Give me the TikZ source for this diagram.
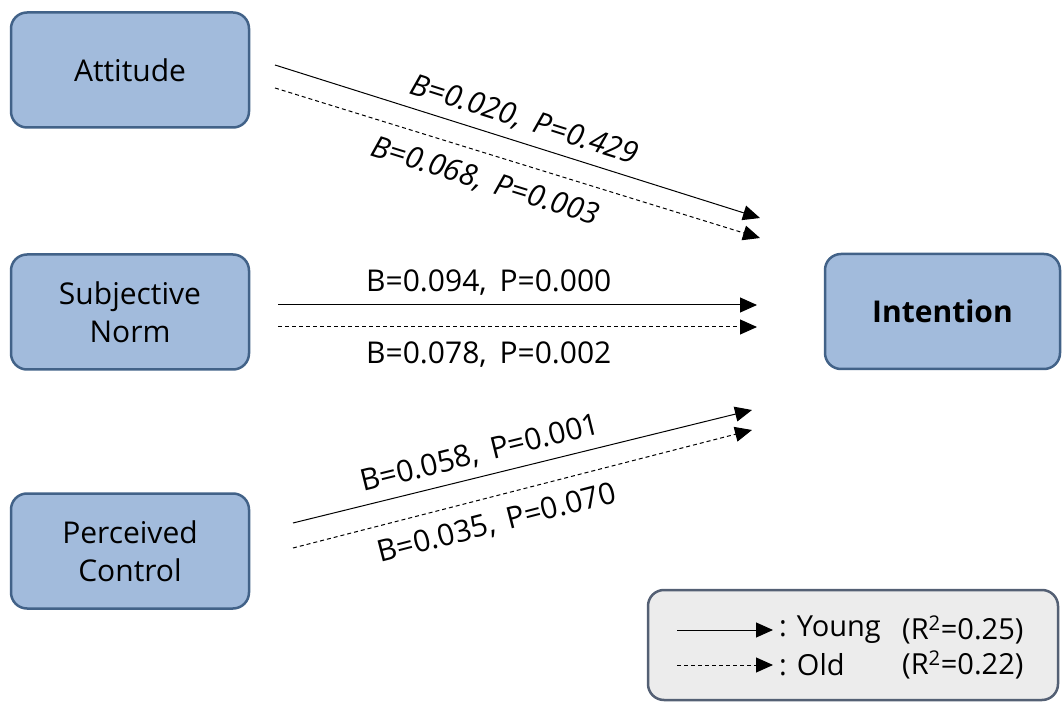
\documentclass[tikz,border=0pt]{standalone}
\usepackage{fontspec}
\setmainfont{Open Sans}
\usetikzlibrary{arrows.meta}

\definecolor{boxfill}{RGB}{162,187,220}
\definecolor{boxline}{RGB}{66,98,136}
\definecolor{keyfill}{RGB}{236,236,236}
\definecolor{keyline}{RGB}{84,96,116}

\tikzset{
  var/.style={draw=boxline, fill=boxfill, line width=2.5pt, rounded corners=16pt,
    minimum width=238pt, minimum height=115pt, align=center,
    font=\fontsize{30}{38}\selectfont},
  young/.style={->, line width=1pt},
  old/.style={->, line width=1pt, dash pattern=on 4pt off 3pt},
  coef/.style={sloped, font=\fontsize{30}{34}\selectfont, inner sep=9pt},
  keytext/.style={anchor=west, inner sep=0pt, font=\fontsize{29}{34}\selectfont},
}

\begin{document}
\begin{tikzpicture}[x=1pt, y=1pt, >={Triangle[length=17pt,width=15pt]}]
\useasboundingbox (0,0) rectangle (1062,702);

% variables
\node[var] (att) at (130,632) {Attitude};
\node[var] (norm) at (130,390) {Subjective\\Norm};
\node[var] (ctrl) at (130,151) {Perceived\\Control};
\node[var, minimum width=235pt, font=\fontsize{30}{38}\selectfont\bfseries] (int) at (942.5,390.5) {Intention};

% arrow ends
\coordinate (attY) at (275,637);  \coordinate (attYe) at (760,484);
\coordinate (attO) at (275,614);  \coordinate (attOe) at (760,464);
\coordinate (normY) at (278,397); \coordinate (normYe) at (757,397);
\coordinate (normO) at (278,375); \coordinate (normOe) at (757,375);
\coordinate (ctrlY) at (293,179); \coordinate (ctrlYe) at (752,292);
\coordinate (ctrlO) at (293,154); \coordinate (ctrlOe) at (752,272);

\draw[young] (attY) -- node[coef, pos=0.5, above, font=\fontsize{30}{34}\selectfont\itshape] {B=0.020,\, P=0.429} (attYe);
\draw[old] (attO) -- node[coef, pos=0.45, below=5pt, font=\fontsize{30}{34}\selectfont\itshape] {B=0.068,\, P=0.003} (attOe);
\draw[young] (normY) -- node[coef, pos=0.44, above] {B=0.094,\, P=0.000} (normYe);
\draw[old] (normO) -- node[coef, pos=0.44, below=5pt] {B=0.078,\, P=0.002} (normOe);
\draw[young] (ctrlY) -- node[coef, pos=0.42, above] {B=0.058,\, P=0.001} (ctrlYe);
\draw[old] (ctrlO) -- node[coef, pos=0.43, below=5pt] {B=0.035,\, P=0.070} (ctrlOe);

% legend
\draw[draw=keyline, fill=keyfill, line width=2.5pt, rounded corners=16pt] (648,112) rectangle (1058,2);
\coordinate (kY) at (677,72); \coordinate (kYe) at (773,72);
\coordinate (kO) at (677,37); \coordinate (kOe) at (773,37);
\draw[young] (kY) -- (kYe);
\draw[old] (kO) -- (kOe);
\node[keytext] (kYt) at (779,72) {: Young};
\node[keytext] (kOt) at (779,37) {: Old};
\node[keytext] (kYr) at (902,72) {(R\textsuperscript{2}=0.25)};
\node[keytext] (kOr) at (902,37) {(R\textsuperscript{2}=0.22)};
\end{tikzpicture}
\end{document}
